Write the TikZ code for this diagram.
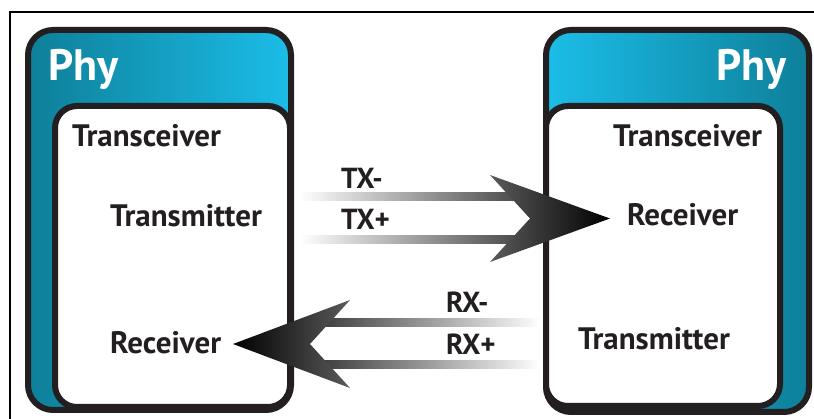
\documentclass[tikz,border=0pt]{standalone}
\usepackage{fontspec}
\setmainfont{PT Sans}
\definecolor{phydark}{HTML}{0E7F99}
\definecolor{phymid}{HTML}{08A8CE}
\definecolor{phylight}{HTML}{1BBDE8}
\definecolor{ink}{HTML}{231F20}
\definecolor{bardark}{HTML}{3C3C3C}
\definecolor{headgray}{HTML}{5C5A5A}
\begin{document}
\begin{tikzpicture}[x=1pt,y=-1pt,
  phybox/.style={draw=ink,line width=6pt,rounded corners=25pt},
  innerbox/.style={draw=ink,fill=white,line width=6pt,rounded corners=22pt},
  lbl/.style={text=ink,font=\fontsize{31}{34}\selectfont\bfseries,inner sep=0pt},
  philbl/.style={text=white,font=\fontsize{44}{48}\selectfont\bfseries,inner sep=0pt},
  sig/.style={text=ink,font=\fontsize{29}{32}\selectfont\bfseries,inner sep=0pt}]
\useasboundingbox (0,0) rectangle (814,419);
\fill[white] (0,0) rectangle (814,419);
\draw[line width=1.5pt] (10,419) -- (10,12) -- (814,12);
% left phy
\draw[phybox,left color=phydark,middle color=phymid,right color=phylight] (28,30) rectangle (291,410);
\draw[innerbox] (55,106) rectangle (290,407);
% right phy
\draw[phybox,left color=phylight,middle color=phymid,right color=phydark] (546,30) rectangle (809,412);
\draw[innerbox] (546,106) rectangle (780,406);
% labels
\node[philbl,anchor=base west] (phyL) at (48,81) {Phy};
\node[philbl,anchor=base east] (phyR) at (787,81) {Phy};
\node[lbl,anchor=base west] (tcL) at (72,147) {Transceiver};
\node[lbl,anchor=base west] (tcR) at (613,147) {Transceiver};
\node[lbl,anchor=base west] (txL) at (110,227) {Transmitter};
\node[lbl,anchor=base west] (rxR) at (627,226) {Receiver};
\node[lbl,anchor=base west] (rxL) at (110,354) {Receiver};
\node[lbl,anchor=base west] (txR) at (578,350) {Transmitter};
% TX arrows
\shade[left color=white,right color=bardark] (300,193) rectangle (535,201);
\shade[left color=white,right color=bardark] (300,236) rectangle (535,244);
\shade[left color=headgray,right color=black] (490,175) -- (610,218.5) -- (490,262) -- (530,218.5) -- cycle;
\node[sig,anchor=base west] (txm) at (341,189) {TX-};
\node[sig,anchor=base west] (txp) at (341,230) {TX+};
% RX arrows
\shade[left color=bardark,right color=white] (320,319) rectangle (540,327);
\shade[left color=bardark,right color=white] (320,361) rectangle (540,369);
\shade[left color=black,right color=headgray] (350,300) -- (233,344) -- (350,388) -- (310,344) -- cycle;
\node[sig,anchor=base west] (rxm) at (446,313) {RX-};
\node[sig,anchor=base west] (rxp) at (446,355) {RX+};
\end{tikzpicture}
\end{document}
